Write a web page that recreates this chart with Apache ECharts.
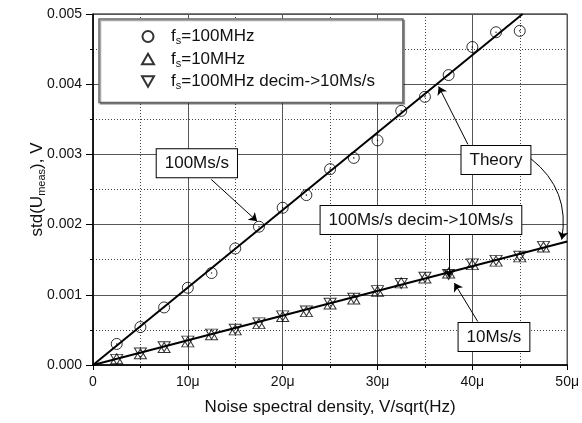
<!DOCTYPE html>
<html><head><meta charset="utf-8">
<script src="https://cdn.jsdelivr.net/npm/echarts@6/dist/echarts.min.js"></script>
<style>html,body{margin:0;padding:0;background:#fff}#c{width:582px;height:423px}</style>
</head><body><div id="c"></div>
<script>
// ---- data (x in µV/sqrt(Hz), y in V) ----
const circleX = [2.5, 5, 7.5, 10, 12.5, 15, 17.5, 20, 22.5, 25, 27.5, 30, 32.5, 35, 37.5, 40, 42.5, 45];
const circleY = [0.00030, 0.00054, 0.00082, 0.00110, 0.00131, 0.00166, 0.00197, 0.00224, 0.00242, 0.00279, 0.00295, 0.00320, 0.00362, 0.00382, 0.00413, 0.00453, 0.00474, 0.00476];
const triX = [2.5, 5, 7.5, 10, 12.5, 15, 17.5, 20, 22.5, 25, 27.5, 30, 32.5, 35, 37.5, 40, 42.5, 45, 47.5];
const upY = [0.00009, 0.00016, 0.00025, 0.00033, 0.00043, 0.00050, 0.00059, 0.00069, 0.00076, 0.00087, 0.00094, 0.00105, 0.00117, 0.00124, 0.00131, 0.00143, 0.00148, 0.00154, 0.00168];
const downY = [0.00008, 0.00017, 0.00026, 0.00034, 0.00044, 0.00051, 0.00060, 0.00070, 0.00077, 0.00088, 0.00095, 0.00106, 0.00116, 0.00125, 0.00129, 0.00144, 0.00149, 0.00155, 0.00169];
const theory100X = [0, 45.3];
const theory100Y = [0, 0.005];
const theory10X = [0, 50];
const theory10Y = [0, 0.00176];
const seriesNames = ['c100', 'c10', 'cdec'];
const legendLabels = ['=100MHz', '=10MHz', '=100MHz decim->10Ms/s'];
const annotationTexts = ['100Ms/s', 'Theory', '100Ms/s decim->10Ms/s', '10Ms/s'];

const F = "'Liberation Sans', Arial, sans-serif";
const zip = (xs, ys) => xs.map((x, i) => [x, ys[i]]);
const upTri = 'path://M5,0L10,8.66L0,8.66Z';
const downTri = 'path://M0,0L10,0L5,8.66Z';
const markStyle = { color: 'rgba(0,0,0,0)', borderColor: '#000', borderWidth: 1 };

const boxLabel = {
  show: true, position: 'inside', color: '#111', fontFamily: F, fontSize: 17,
  backgroundColor: '#fff', borderColor: '#000', borderWidth: 1, padding: [6, 8, 5, 8]
};
const annPos = [[10.95, 0.002874], [42.49, 0.002921], [34.58, 0.002064], [42.28, 0.000400]];
const straightArrows = [
  [[12.47, 0.002643], [17.31, 0.002047]],
  [[39.53, 0.003143], [36.45, 0.003967]],
  [[37.53, 0.001857], [37.53, 0.001247]],
  [[40.57, 0.000619], [38.10, 0.001167]]
];
const curvedArrow = [[46.17, 0.002939], [49.42, 0.001786]];

const chart = echarts.init(document.getElementById('c'), null, { renderer: 'canvas' });
const legendMap = {};
seriesNames.forEach((n, i) => legendMap[n] = '{sp|}{n|f}{s|s}{n|' + legendLabels[i] + '}');

chart.setOption({
  animation: false,
  backgroundColor: '#fff',
  grid: { left: 93, right: 11, top: 14, bottom: 58, show: true, borderColor: '#000', borderWidth: 1, backgroundColor: 'transparent' },
  legend: {
    data: seriesNames, orient: 'vertical', left: 99, top: 19,
    padding: [9, 28, 11, 42], itemGap: 4, itemWidth: 12, itemHeight: 11,
    backgroundColor: '#fff', borderColor: '#666', borderWidth: 1.5,
    shadowColor: 'rgba(0,0,0,0.35)', shadowOffsetX: 1.5, shadowOffsetY: 1.5, shadowBlur: 0,
    formatter: n => legendMap[n],
    textStyle: {
      color: '#111', fontFamily: F,
      rich: {
        sp: { width: 12, fontSize: 17, lineHeight: 20 },
        n: { fontSize: 17, lineHeight: 20, fontFamily: F, color: '#111' },
        s: { fontSize: 11, lineHeight: 11, verticalAlign: 'bottom', fontFamily: F, color: '#111' }
      }
    }
  },
  xAxis: {
    type: 'value', min: 0, max: 50, interval: 10,
    name: 'Noise spectral density, V/sqrt(Hz)', nameLocation: 'middle', nameGap: 34,
    nameTextStyle: { fontFamily: F, fontSize: 17, color: '#111' },
    axisLine: { show: true, onZero: false, lineStyle: { color: '#000', width: 1.5 } },
    axisTick: { show: true, inside: false, length: 5, lineStyle: { color: '#000', width: 1 } },
    minorTick: { show: true, splitNumber: 2, length: 3, lineStyle: { color: '#000' } },
    axisLabel: { fontFamily: F, fontSize: 14, color: '#111', margin: 10, formatter: v => v === 0 ? '0' : v + 'μ' },
    splitLine: { show: true, lineStyle: { color: '#555', width: 1 } },
    minorSplitLine: { show: true, lineStyle: { color: '#444', width: 1, type: [1, 2] } }
  },
  yAxis: {
    type: 'value', min: 0, max: 0.005, interval: 0.001,
    name: '{a|std(U}{b|meas}{a|), V}', nameLocation: 'middle', nameGap: 46, nameRotate: 90,
    nameMoveOverlap: false,
    nameTextStyle: {
      fontFamily: F, color: '#111',
      rich: {
        a: { fontSize: 17, lineHeight: 20, fontFamily: F, color: '#111' },
        b: { fontSize: 11, lineHeight: 11, verticalAlign: 'bottom', fontFamily: F, color: '#111' }
      }
    },
    axisLine: { show: true, onZero: false, lineStyle: { color: '#000', width: 1.5 } },
    axisTick: { show: true, inside: false, length: 7, lineStyle: { color: '#000', width: 1 } },
    minorTick: { show: true, splitNumber: 2, length: 3, lineStyle: { color: '#000' } },
    axisLabel: { fontFamily: F, fontSize: 14, color: '#111', margin: 11, formatter: v => v.toFixed(3) },
    splitLine: { show: true, lineStyle: { color: '#555', width: 1 } },
    minorSplitLine: { show: true, lineStyle: { color: '#444', width: 1, type: [1, 2] } }
  },
  series: [
    {
      name: 'theory100', type: 'line', data: zip(theory100X, theory100Y), symbol: 'none',
      lineStyle: { color: '#000', width: 2 }, z: 3, silent: true
    },
    {
      name: 'theory10', type: 'line', data: zip(theory10X, theory10Y), symbol: 'none',
      lineStyle: { color: '#000', width: 2 }, z: 3, silent: true
    },
    { name: 'c100', type: 'scatter', data: zip(circleX, circleY), symbol: 'circle', symbolSize: 11, itemStyle: markStyle, z: 4 },
    { name: 'c10', type: 'scatter', data: zip(triX, upY), symbol: upTri, symbolSize: [12, 10], itemStyle: markStyle, z: 4 },
    { name: 'cdec', type: 'scatter', data: zip(triX, downY), symbol: downTri, symbolSize: [12, 10], itemStyle: markStyle, z: 4 },
    { name: 'dots', type: 'scatter', data: zip(circleX, circleY), symbol: 'circle', symbolSize: 1.6, itemStyle: { color: '#000' }, z: 5, silent: true },
    {
      name: 'annotations', type: 'scatter', data: [], z: 10, silent: true,
      markLine: {
        silent: true, symbol: ['none', 'arrow'], symbolSize: 8, label: { show: false },
        lineStyle: { color: '#000', width: 1, type: 'solid' },
        itemStyle: { color: '#000' },
        data: straightArrows.map(a => [{ coord: a[0] }, { coord: a[1] }])
      },
      markPoint: {
        silent: true, symbol: 'rect', symbolSize: 1, itemStyle: { color: 'rgba(0,0,0,0)' },
        label: boxLabel,
        data: annotationTexts.map((t, i) => ({ coord: annPos[i], value: t, label: { formatter: t } }))
      }
    },
    {
      name: 'curvedArrow', type: 'lines', coordinateSystem: 'cartesian2d', z: 10, silent: true,
      symbol: ['none', 'arrow'], symbolSize: 8,
      lineStyle: { color: '#000', width: 1, curveness: 0.3, opacity: 1 },
      data: [{ coords: curvedArrow }]
    }
  ]
});
</script></body></html>
